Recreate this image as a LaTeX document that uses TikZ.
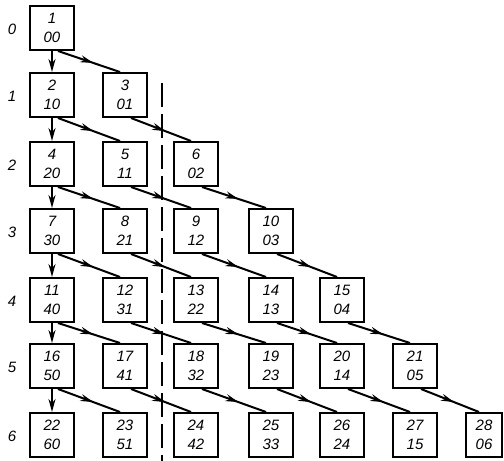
\documentclass[tikz,border=0pt]{standalone}
\usepackage{fontspec}
\setmainfont{Liberation Sans}
\usetikzlibrary{arrows.meta,decorations.markings}
\tikzset{
  box/.style={draw, line width=2pt, minimum width=44pt, minimum height=44pt,
    inner sep=0pt, align=center, font=\fontsize{15}{19}\selectfont\itshape},
  vert/.style={line width=2pt, -{Stealth[length=13pt,width=7pt]}},
  diag/.style={line width=2pt, postaction={decorate},
    decoration={markings, mark=at position 0.57 with {\arrow{Stealth[length=13pt,width=7pt]}}}},
  rowlab/.style={font=\fontsize{15}{16}\selectfont\itshape},
  divider/.style={line width=1.5pt, dash pattern=on 24pt off 7pt}
}
\begin{document}
\begin{tikzpicture}[x=1pt,y=-1pt]
\useasboundingbox (0,0) rectangle (504,461);
% boxes
\foreach \r in {0,...,6}{
  \pgfmathsetmacro{\top}{{5,72,141,208,277,343,412}[\r]}
  \node[rowlab] (lab-\r) at (12,\top+24) {\r};
  \foreach \c in {0,...,\r}{
    \pgfmathsetmacro{\left}{{29,102,173,248,319,392,465}[\c]}
    \pgfmathtruncatemacro{\n}{\r*(\r+1)/2+\c+1}
    \pgfmathtruncatemacro{\a}{\r-\c}
    \ifnum\c=6
      \node[box, minimum width=36pt] (b-\r-\c) at (\left+19,\top+23) {\n\\\a\c};
    \else
      \node[box] (b-\r-\c) at (\left+23,\top+23) {\n\\\a\c};
    \fi
  }
}
% vertical arrows in column 0
\foreach \r in {0,...,5}{
  \pgfmathtruncatemacro{\s}{\r+1}
  \draw[vert] (b-\r-0.south) -- (b-\s-0.north);
}
% diagonal arrows
\foreach \r in {0,...,5}{
  \foreach \c in {0,...,\r}{
    \pgfmathtruncatemacro{\s}{\r+1}
    \pgfmathtruncatemacro{\d}{\c+1}
    \draw[diag] ([xshift=6pt]b-\r-\c.south) -- ([xshift=-5pt]b-\s-\d.north);
  }
}
% dashed divider
\coordinate (dtop) at (162,83);
\coordinate (dbot) at (162,461);
\draw[divider] (dtop) -- (dbot);
\end{tikzpicture}
\end{document}
